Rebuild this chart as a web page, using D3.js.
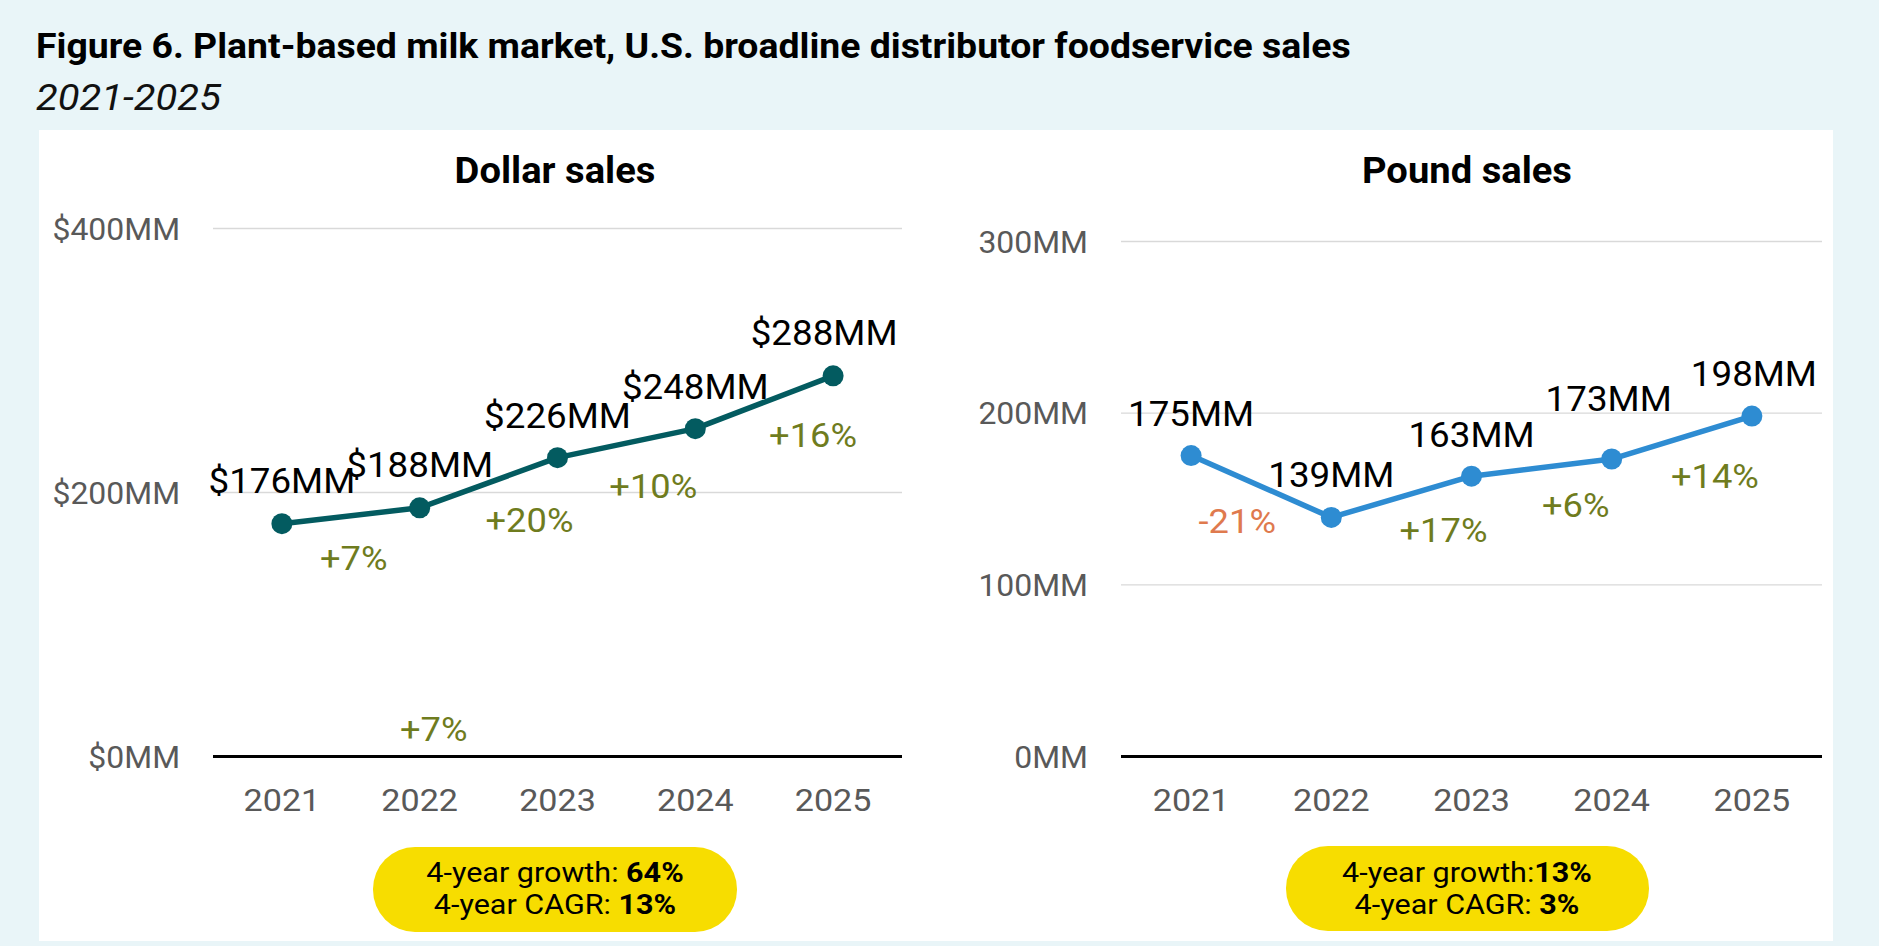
<!DOCTYPE html>
<html>
<head>
<meta charset="utf-8">
<script src="https://cdn.jsdelivr.net/npm/d3@7"></script>
<style>
  html, body { margin: 0; padding: 0; background: #E9F5F8; }
  svg { display: block; font-family: Roboto, "Noto Sans", sans-serif; }
</style>
</head>
<body>
<svg id="chart" width="1879" height="946"></svg>
<script>
// ---------- data ----------
const years = ["2021", "2022", "2023", "2024", "2025"];
const dollarValues = [176, 188, 226, 248, 288];
const poundValues = [175, 139, 163, 173, 198];
const dollarTicks = [0, 200, 400];
const poundTicks = [0, 100, 200, 300];
const dollarGrowth = ["+7%", "+20%", "+10%", "+16%"];
const poundGrowth = ["-21%", "+17%", "+6%", "+14%"];
const dollarSummary = ["64%", "13%"];
const poundSummary = ["13%", "3%"];
const strayLabel = ["+7%"];

// ---------- layout / style ----------
const W = 1879, H = 946;
const svg = d3.select("#chart");
const C = {
  bg: "#E9F5F8", panel: "#FFFFFF", grid: "#D9D9D9", axis: "#000000",
  tick: "#595959", dollar: "#035B60", pound: "#2E8CD2",
  up: "#6F7C1E", down: "#DF7A4E", pill: "#F7DD00"
};

// widen glyph runs slightly to mimic the wider original face
function stretch(sel, k) {
  sel.each(function () {
    const w = this.getComputedTextLength();
    if (w > 0) d3.select(this).attr("textLength", w * k).attr("lengthAdjust", "spacingAndGlyphs");
  });
}

svg.append("rect").attr("width", W).attr("height", H).attr("fill", C.bg);
svg.append("rect").attr("x", 39).attr("y", 130).attr("width", 1794).attr("height", 811).attr("fill", C.panel);

stretch(svg.append("text").attr("x", 36).attr("y", 58)
  .attr("font-size", 35).attr("font-weight", 700).attr("fill", "#000")
  .text("Figure 6. Plant-based milk market, U.S. broadline distributor foodservice sales"), 1.068);
stretch(svg.append("text").attr("x", 36).attr("y", 110)
  .attr("font-size", 37).attr("font-style", "italic").attr("fill", "#111")
  .text("2021-2025"), 1.08);

function panel(cfg) {
  const g = svg.append("g");
  const x = d3.scaleBand().domain(years).range(cfg.xRange);
  const xc = d => x(d) + x.bandwidth() / 2;
  const y = d3.scaleLinear().domain(cfg.domain).range([756, cfg.top]);

  // title
  stretch(g.append("text").attr("x", cfg.titleX).attr("y", 183).attr("text-anchor", "middle")
    .attr("font-size", 36).attr("font-weight", 700).attr("fill", "#000").text(cfg.title), 1.06);

  // y axis with gridlines
  const yAxis = d3.axisLeft(y).tickValues(cfg.ticks)
    .tickSize(-(cfg.xRange[1] - cfg.xRange[0])).tickPadding(33)
    .tickFormat(cfg.tickFmt);
  const ya = g.append("g").attr("transform", `translate(${cfg.xRange[0]},0)`).call(yAxis);
  ya.select(".domain").remove();
  ya.selectAll(".tick line").attr("stroke", d => d === 0 ? C.axis : C.grid)
    .attr("stroke-width", d => d === 0 ? 3 : 1.3);
  ya.selectAll(".tick text").attr("font-size", 31).attr("fill", C.tick)
    .attr("font-family", "Roboto, sans-serif").attr("dy", "0.36em");
  stretch(ya.selectAll(".tick text"), 1.03);

  // x axis
  const xAxis = d3.axisBottom(x).tickSize(0).tickPadding(0);
  const xa = g.append("g").attr("transform", "translate(0,756)").call(xAxis);
  xa.select(".domain").remove();
  xa.selectAll(".tick text").attr("font-size", 31).attr("fill", C.tick)
    .attr("font-family", "Roboto, sans-serif").attr("y", 55).attr("dy", 0);
  stretch(xa.selectAll(".tick text"), 1.1);

  // line
  const pts = years.map((yr, i) => ({ yr, v: cfg.values[i], i }));
  const line = d3.line().x(d => xc(d.yr)).y(d => y(d.v));
  g.append("path").datum(pts).attr("d", line).attr("fill", "none")
    .attr("stroke", cfg.color).attr("stroke-width", 5.5).attr("stroke-linejoin", "round");
  g.selectAll("circle.pt").data(pts).join("circle").attr("class", "pt")
    .attr("cx", d => xc(d.yr)).attr("cy", d => y(d.v)).attr("r", 10.5).attr("fill", cfg.color);

  // value labels
  const vl = g.selectAll("text.val").data(pts).join("text").attr("class", "val")
    .attr("x", d => xc(d.yr) + cfg.valNudge[d.i][0])
    .attr("y", d => y(d.v) + cfg.valNudge[d.i][1])
    .attr("text-anchor", "middle").attr("font-size", 35).attr("fill", "#000")
    .text(d => cfg.valFmt(d.v));
  stretch(vl, 1.05);

  // growth labels
  const gr = cfg.growth.map((t, i) => ({ t, yr: years[i + 1], v: cfg.values[i + 1], i }));
  const gl = g.selectAll("text.gr").data(gr).join("text").attr("class", "gr")
    .attr("x", d => xc(d.yr) + cfg.grNudge[d.i][0])
    .attr("y", d => y(d.v) + cfg.grNudge[d.i][1])
    .attr("text-anchor", "middle").attr("font-size", 33)
    .attr("fill", d => d.t.startsWith("-") ? C.down : C.up)
    .text(d => d.t);
  stretch(gl, 1.1);

  // summary pill
  const p = cfg.pill;
  g.append("rect").attr("x", p[0]).attr("y", p[1]).attr("width", p[2]).attr("height", p[3])
    .attr("rx", 42).attr("ry", 42).attr("fill", C.pill);
  [0, 1].forEach(k => {
    const t = g.append("text").attr("x", cfg.titleX).attr("y", k === 0 ? 882 : 914)
      .attr("text-anchor", "middle").attr("font-size", 28).attr("fill", "#000");
    t.append("tspan").text(cfg.summaryLead[k]);
    t.append("tspan").attr("font-weight", 700).text(cfg.summary[k]);
    stretch(t.selectAll("tspan"), 1.09);
  });
  return { g, x, xc, y };
}

const dp = panel({
  title: "Dollar sales", titleX: 555, xRange: [213, 902], domain: [0, 400], top: 228,
  ticks: dollarTicks, tickFmt: d => "$" + d + "MM", values: dollarValues, color: C.dollar,
  valFmt: v => "$" + v + "MM",
  valNudge: [[0, -31], [0, -31], [0, -30], [0, -30], [-9, -31]],
  growth: dollarGrowth,
  grNudge: [[-66, 62], [-28, 74], [-42, 69], [-20, 71]],
  pill: [373, 847, 364, 85],
  summaryLead: ["4-year growth: ", "4-year CAGR: "], summary: dollarSummary
});

// stray annotation near the baseline
stretch(dp.g.append("text").attr("x", dp.xc("2022") + 14).attr("y", dp.y(0) - 15)
  .attr("text-anchor", "middle").attr("font-size", 33).attr("fill", C.up).text(strayLabel[0]), 1.1);

panel({
  title: "Pound sales", titleX: 1467, xRange: [1121, 1822], domain: [0, 300], top: 241,
  ticks: poundTicks, tickFmt: d => d + "MM", values: poundValues, color: C.pound,
  valFmt: v => v + "MM",
  valNudge: [[0, -30], [0, -30], [0, -29], [-3, -48], [2, -30]],
  growth: poundGrowth,
  grNudge: [[-94, 16], [-28, 66], [-36, 58], [-37, 72]],
  pill: [1286, 846, 363, 85],
  summaryLead: ["4-year growth:", "4-year CAGR: "], summary: poundSummary
});
</script>
</body>
</html>
